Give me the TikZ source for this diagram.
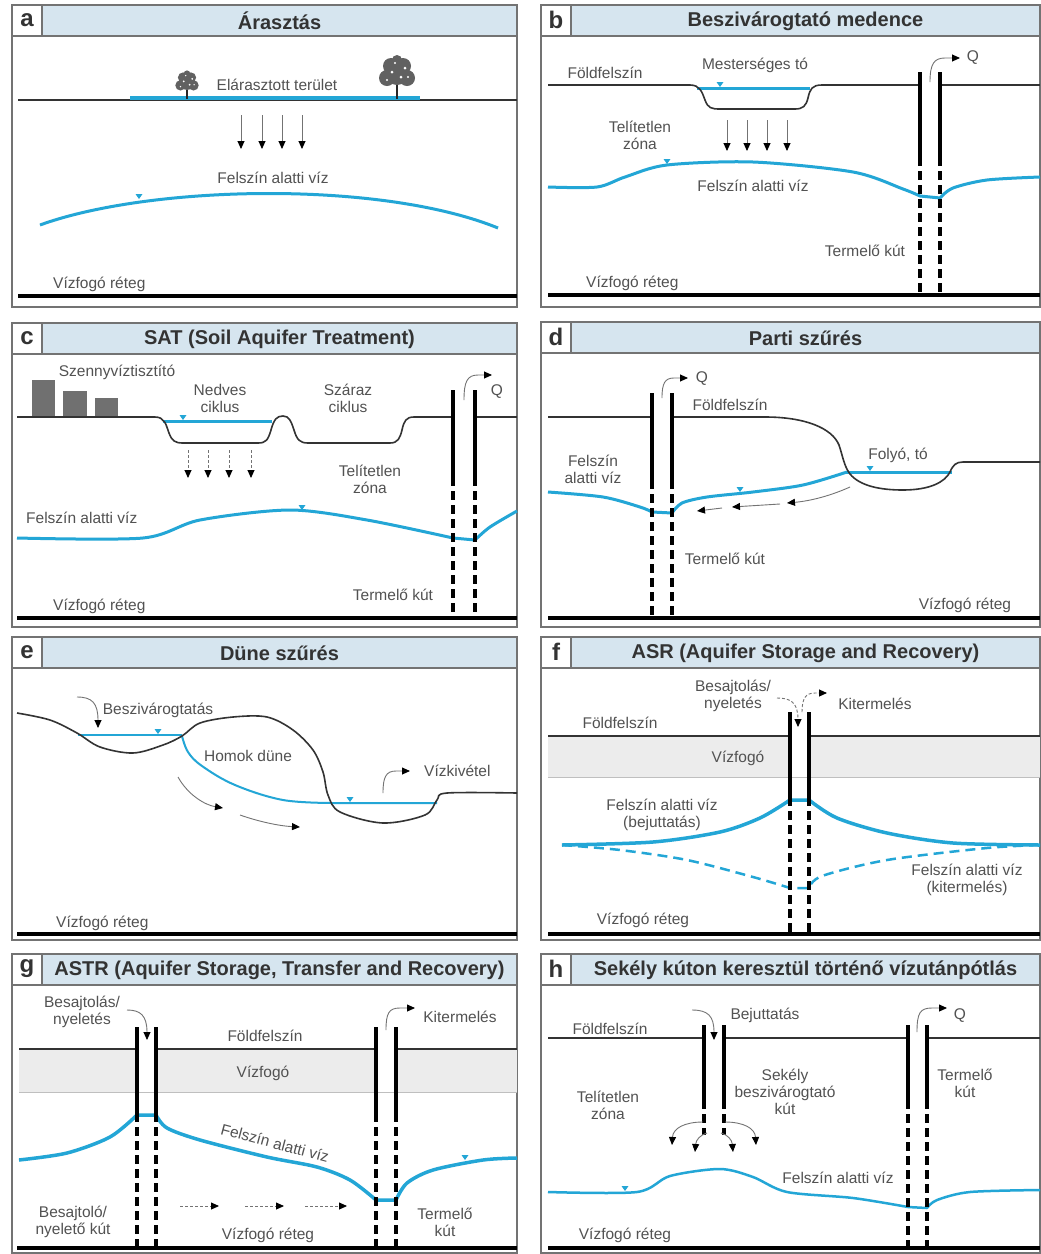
\documentclass[tikz,border=0pt]{standalone}
\usepackage{fontspec}
\setmainfont{Liberation Sans}
\usetikzlibrary{arrows.meta}

\definecolor{vizkek}{RGB}{35,166,214}
\definecolor{fejkek}{RGB}{214,229,239}
\definecolor{savszurke}{RGB}{236,236,236}
\definecolor{epulet}{RGB}{112,112,112}

\tikzset{
	keret/.style={draw=black!55,line width=1.2pt},
	fej/.style={keret,fill=fejkek},
	betu/.style={font=\fontsize{24}{24}\selectfont\bfseries,text=black!80},
	cim/.style={font=\fontsize{20}{20}\selectfont\bfseries,text=black!80},
	lbl/.style={font=\fontsize{15.5}{17}\selectfont,text=black!68,align=center,inner sep=1pt},
	felszin/.style={draw=black!80,line width=1.6pt},
	viz/.style={draw=vizkek,line width=3pt,line join=round},
	zaro/.style={draw=black,line width=4pt},
	fal/.style={draw=black,line width=3.6pt},
	falszagg/.style={fal,dash pattern=on 9pt off 5pt},
	nyil/.style={draw=black!55,line width=0.9pt,-{Triangle[length=8pt,width=7pt,color=black]}},
	szagg/.style={nyil,dash pattern=on 3pt off 2pt},
}

% frame, header bar and letter box of one panel
\newcommand{\panelkeret}[7]{%
	\draw[keret,fill=white] (#2,#3) rectangle (#4,#5);
	\draw[fej] (#2+30,#3) rectangle (#4,#3+31);
	\draw[keret] (#2,#3) rectangle (#2+30,#3+31);
	\node[betu] (#1b) at (#2+15,#3+15) {#6};
	\node[cim] (#1c) at ({(#2+30+#4)/2},#3+16) {#7};
}
% well: left wall, right wall, top, start of screen, bottom
\newcommand{\kut}[5]{%
	\draw[fal] (#1,#3) -- (#1,#4);
	\draw[fal] (#2,#3) -- (#2,#4);
	\draw[falszagg] (#1,#4) -- (#1,#5);
	\draw[falszagg] (#2,#4) -- (#2,#5);
}
\newcommand{\jel}[2]{\fill[vizkek] (#1-3.5,#2-6) -- (#1+3.5,#2-6) -- (#1,#2-1) -- cycle;}
\newcommand{\fa}[3]{%
	\begin{scope}[shift={(#1,#2)},scale=#3]
		\draw[black!85,line width=2pt] (0,0) -- (0,-16);
		\fill[black!62] (0,-25) circle (11) (-10,-21) circle (8) (10,-21) circle (8) (-6,-33) circle (8) (6,-33) circle (8) (0,-39) circle (5);
		\fill[white] (-5,-27) circle (1.5) (4,-22) circle (1.5) (-10,-19) circle (1.2) (8,-31) circle (1.5) (-2,-36) circle (1.2) (11,-22) circle (1.2);
	\end{scope}
}

\begin{document}
\begin{tikzpicture}[x=1pt,y=-1pt]
	\useasboundingbox (0,0) rectangle (1041,1254);
	\fill[white] (0,0) rectangle (1041,1254);
	
	% a
	\panelkeret{a}{12}{5}{517}{307}{a}{Árasztás}
	\draw[felszin] (18,100) -- (517,100);
	\draw[viz,line width=3.5pt] (130,98) -- (420,98);
	\fa{187}{99}{0.65}
	\fa{397}{99}{1}
	\node[lbl] (elar) at (277,85) {Elárasztott terület};
	\foreach \x in {241,262,282,302}
		\draw[nyil] (\x,115) -- (\x,149);
	\node[lbl] (fva) at (273,178) {Felszín alatti víz};
	\draw[viz] (40,225) .. controls (150,185) and (380,180) .. (498,228);
	\jel{139}{200}
	\node[lbl,anchor=west] (vra) at (52,284) {Vízfogó réteg};
	\draw[zaro] (18,296) -- (517,296);
	
	% b
	\panelkeret{b}{541}{5}{1040}{307}{b}{Beszivárogtató medence}
	\draw[viz] (697,88) -- (810,88);
	\jel{720}{88}
	\draw[felszin] (548,85) -- (690,85) .. controls (700,85) and (702,92) .. (705,100) .. controls (708,108) and (711,109) .. (720,109) -- (795,109) .. controls (803,109) and (806,106) .. (808,98) .. controls (810,89) and (812,85) .. (822,85) -- (920,85);
	\draw[felszin] (940,85) -- (1040,85);
	\node[lbl] (mto) at (755,65) {Mesterséges tó};
	\node[lbl] (ffb) at (605,73) {Földfelszín};
	\node[lbl] (tzb) at (640,135) {Telítetlen\\zóna};
	\foreach \x in {727,747,767,787}
		\draw[nyil] (\x,120) -- (\x,151);
	\draw[viz] plot[smooth,tension=0.5] coordinates {(548,187) (597,187) (625,177) (667,165) (753,162) (853,172) (903,189) (920,196)} -- plot[smooth,tension=0.5] coordinates {(940,198) (953,188) (987,180) (1040,177)};
	\jel{667}{165}
	\node[lbl] (fvb) at (753,186) {Felszín alatti víz};
	\kut{920}{940}{72}{157}{295}
	\draw[nyil] (930,82) .. controls (930,64) and (934,58) .. (945,58) -- (960,58);
	\node[lbl] (qb) at (973,58) {Q};
	\node[lbl] (tkb) at (865,251) {Termelő kút};
	\node[lbl,anchor=west] (vrb) at (585,283) {Vízfogó réteg};
	\draw[zaro] (548,295) -- (1040,295);
	
	% c
	\panelkeret{c}{12}{323}{517}{627}{c}{SAT (Soil Aquifer Treatment)}
	\fill[epulet] (32,380) rectangle (55,417);
	\fill[epulet] (63,391) rectangle (87,417);
	\fill[epulet] (95,398) rectangle (118,417);
	\node[lbl] (szt) at (117,372) {Szennyvíztisztító};
	\draw[viz] (163,421) -- (272,421);
	\jel{183}{421}
	\draw[felszin] (17,417) -- (155,417) .. controls (165,417) and (166,425) .. (169,433) .. controls (172,441) and (175,443) .. (183,443) -- (258,443) .. controls (266,443) and (268,440) .. (271,430) .. controls (274,419) and (277,416) .. (283,416) .. controls (289,416) and (291,421) .. (294,430) .. controls (297,440) and (300,443) .. (308,443) -- (390,443) .. controls (398,443) and (400,438) .. (402,430) .. controls (404,421) and (406,417) .. (414,417) -- (453,417);
	\draw[felszin] (475,417) -- (517,417);
	\node[lbl] (nc) at (220,398) {Nedves\\ciklus};
	\node[lbl] (szc) at (348,398) {Száraz\\ciklus};
	\foreach \x in {188,208,229,251}
		\draw[szagg] (\x,450) -- (\x,478);
	\node[lbl] (tzc) at (370,479) {Telítetlen\\zóna};
	\node[lbl,anchor=west] (fvc) at (25,518) {Felszín alatti víz};
	\draw[viz] plot[smooth,tension=0.5] coordinates {(17,538) (143,538) (200,520) (290,510) (367,520) (453,538)} -- plot[smooth,tension=0.5] coordinates {(475,540) (490,527) (517,511)};
	\jel{302}{511}
	\kut{453}{475}{390}{477}{618}
	\draw[nyil] (464,400) .. controls (464,382) and (467,375) .. (478,375) -- (492,375);
	\node[lbl] (qc) at (497,392) {Q};
	\node[lbl] (tkc) at (393,595) {Termelő kút};
	\node[lbl,anchor=west] (vrc) at (52,606) {Vízfogó réteg};
	\draw[zaro] (17,618) -- (517,618);
	
	% d
	\panelkeret{d}{541}{322}{1040}{627}{d}{Parti szűrés}
	\draw[viz] (845,472) -- (952,472);
	\jel{870}{472}
	\draw[felszin] (548,417) -- (652,417);
	\draw[felszin] (672,417) -- (765,417) .. controls (805,417) and (832,428) .. (839,445) .. controls (843,457) and (844,466) .. (850,474) .. controls (860,486) and (880,490) .. (903,490) .. controls (930,490) and (945,482) .. (950,472) .. controls (953,465) and (956,462) .. (963,462) -- (1040,462);
	\draw[viz] plot[smooth,tension=0.5] coordinates {(548,492) (603,497) (640,507) (652,512)} -- plot[smooth,tension=0.5] coordinates {(672,513) (682,503) (707,497) (753,492) (803,485) (847,472)};
	\jel{740}{493}
	\kut{652}{672}{393}{480}{618}
	\draw[nyil] (662,398) .. controls (662,383) and (665,378) .. (674,378) -- (688,378);
	\node[lbl] (qd) at (702,379) {Q};
	\node[lbl] (ffd) at (730,405) {Földfelszín};
	\node[lbl] (fto) at (898,455) {Folyó, tó};
	\node[lbl] (fvd) at (593,469) {Felszín\\alatti víz};
	\draw[nyil] (850,487) .. controls (830,496) and (810,501) .. (787,503);
	\draw[nyil] (780,504) -- (732,507);
	\draw[nyil] (722,508) -- (697,511);
	\node[lbl] (tkd) at (725,559) {Termelő kút};
	\node[lbl] (vrd) at (965,605) {Vízfogó réteg};
	\draw[zaro] (548,618) -- (1040,618);
	
	% e
	\panelkeret{e}{12}{637}{517}{940}{e}{Düne szűrés}
	\draw[viz,line width=2pt] (78,735) -- (182,735);
	\jel{158}{735}
	\draw[viz,line width=2pt] plot[smooth,tension=0.6] coordinates {(182,736) (188,752) (202,766) (235,785) (283,800) (333,803)} -- (437,803);
	\jel{350}{803}
	\draw[felszin] plot[smooth,tension=0.55] coordinates {(17,713) (50,720) (77,733) (100,747) (133,753) (163,745) (182,736) (200,723) (233,717) (267,717) (293,730) (313,750) (323,772) (328,795) (340,812) (383,823) (425,815) (437,800) (447,793) (517,793)};
	\draw[nyil] (77,697) .. controls (92,697) and (98,703) .. (98,728);
	\node[lbl] (bsz) at (158,710) {Beszivárogtatás};
	\node[lbl] (hd) at (248,756) {Homok düne};
	\draw[nyil] (178,777) .. controls (188,795) and (205,805) .. (223,808);
	\draw[nyil] (240,815) .. controls (260,822) and (280,826) .. (300,827);
	\draw[nyil] (383,793) .. controls (383,777) and (386,771) .. (396,771) -- (410,771);
	\node[lbl,anchor=west] (vkv) at (423,771) {Vízkivétel};
	\node[lbl,anchor=west] (vre) at (55,923) {Vízfogó réteg};
	\draw[zaro] (17,934) -- (517,934);
	
	% f
	\panelkeret{f}{541}{637}{1040}{940}{f}{ASR (Aquifer Storage and Recovery)}
	\fill[savszurke] (548,736) rectangle (1040,777);
	\draw[black!25,line width=1pt] (548,777) -- (1040,777);
	\fill[white] (790,700) rectangle (809,777);
	\draw[felszin] (548,736) -- (790,736);
	\draw[felszin] (809,736) -- (1040,736);
	\draw[viz,line width=3.5pt] plot[smooth,tension=0.5] coordinates {(562,845) (653,842) (720,832) (760,818) (790,800)} -- plot[smooth,tension=0.5] coordinates {(809,800) (837,818) (887,833) (953,843) (1040,845)};
	\draw[viz,line width=2.5pt,dash pattern=on 10pt off 6pt] plot[smooth,tension=0.5] coordinates {(562,845) (620,850) (687,860) (753,877) (790,888)} -- plot[smooth,tension=0.5] coordinates {(809,888) (822,876) (887,860) (987,848) (1040,845)};
	\kut{790}{809}{712}{797}{934}
	\draw[szagg] (777,698) .. controls (790,698) and (798,702) .. (798,727);
	\draw[szagg] (802,712) .. controls (802,698) and (806,693) .. (815,693) -- (827,693);
	\node[lbl] (bnf) at (733,696) {Besajtolás/\\nyeletés};
	\node[lbl] (ktf) at (875,704) {Kitermelés};
	\node[lbl] (fff) at (620,723) {Földfelszín};
	\node[lbl] (vzf) at (738,758) {Vízfogó};
	\node[lbl] (fbf) at (662,815) {Felszín alatti víz\\(bejuttatás)};
	\node[lbl] (fkf) at (967,880) {Felszín alatti víz\\(kitermelés)};
	\node[lbl] (vrf) at (643,920) {Vízfogó réteg};
	\draw[zaro] (548,934) -- (1040,934);
	
	% g
	\panelkeret{g}{12}{954}{517}{1253}{g}{ASTR (Aquifer Storage, Transfer and Recovery)}
	\fill[savszurke] (19,1049) rectangle (517,1092);
	\draw[black!25,line width=1pt] (19,1092) -- (517,1092);
	\fill[white] (137,1020) rectangle (156,1092);
	\fill[white] (376,1020) rectangle (396,1092);
	\draw[felszin] (19,1049) -- (137,1049);
	\draw[felszin] (156,1049) -- (376,1049);
	\draw[felszin] (396,1049) -- (517,1049);
	\draw[viz,line width=3.5pt] plot[smooth,tension=0.5] coordinates {(19,1160) (67,1153) (110,1137) (137,1115)} -- plot[smooth,tension=0.5] coordinates {(156,1115) (167,1128) (200,1140) (267,1157) (317,1167) (350,1180) (376,1200)} -- plot[smooth,tension=0.5] coordinates {(396,1200) (407,1183) (433,1170) (483,1160) (517,1158)};
	\jel{465}{1161}
	\kut{137}{156}{1027}{1113}{1248}
	\kut{376}{396}{1027}{1113}{1248}
	\draw[nyil] (127,1010) .. controls (140,1010) and (147,1015) .. (147,1040);
	\draw[nyil] (386,1030) .. controls (386,1013) and (389,1008) .. (400,1008) -- (415,1008);
	\node[lbl] (bng) at (82,1012) {Besajtolás/\\nyeletés};
	\node[lbl] (ktg) at (460,1017) {Kitermelés};
	\node[lbl] (ffg) at (265,1036) {Földfelszín};
	\node[lbl] (vzg) at (263,1073) {Vízfogó};
	\node[lbl,rotate=-15] (fvg) at (275,1143) {Felszín alatti víz};
	\foreach \a/\b in {180/219,245/284,305/347}
		\draw[szagg] (\a,1206) -- (\b,1206);
	\node[lbl] (bkg) at (73,1222) {Besajtoló/\\nyelető kút};
	\node[lbl] (vrg) at (268,1235) {Vízfogó réteg};
	\node[lbl] (tkg) at (445,1222) {Termelő\\kút};
	\draw[zaro] (17,1248) -- (517,1248);
	
	% h
	\panelkeret{h}{541}{954}{1040}{1253}{h}{Sekély kúton keresztül történő vízutánpótlás}
	\draw[felszin] (548,1038) -- (704,1038);
	\draw[felszin] (724,1038) -- (908,1038);
	\draw[felszin] (927,1038) -- (1040,1038);
	\draw[viz,line width=2.5pt] plot[smooth,tension=0.5] coordinates {(548,1192) (637,1192) (670,1176) (720,1169) (753,1177) (787,1192) (853,1198) (908,1207)} -- plot[smooth,tension=0.5] coordinates {(927,1208) (937,1200) (970,1192) (1040,1190)};
	\jel{625}{1192}
	\kut{704}{724}{1025}{1100}{1135}
	\kut{908}{927}{1025}{1100}{1248}
	\draw[nyil] (692,1010) .. controls (708,1010) and (714,1016) .. (714,1040);
	\draw[nyil] (917,1032) .. controls (917,1013) and (920,1008) .. (932,1008) -- (947,1008);
	\draw[nyil] (703,1122) .. controls (685,1122) and (673,1128) .. (672,1145);
	\draw[nyil] (707,1133) .. controls (700,1135) and (696,1140) .. (695,1152);
	\draw[nyil] (721,1133) .. controls (728,1135) and (732,1140) .. (733,1152);
	\draw[nyil] (725,1122) .. controls (743,1122) and (755,1128) .. (756,1145);
	\node[lbl] (ffh) at (610,1029) {Földfelszín};
	\node[lbl] (bjh) at (765,1015) {Bejuttatás};
	\node[lbl] (qh) at (960,1016) {Q};
	\node[lbl] (tzh) at (608,1105) {Telítetlen\\zóna};
	\node[lbl] (sbk) at (785,1092) {Sekély\\beszivárogtató\\kút};
	\node[lbl] (tkh) at (965,1083) {Termelő\\kút};
	\node[lbl] (fvh) at (838,1178) {Felszín alatti víz};
	\node[lbl] (vrh) at (625,1235) {Vízfogó réteg};
	\draw[zaro] (548,1248) -- (1040,1248);
\end{tikzpicture}
\end{document}
